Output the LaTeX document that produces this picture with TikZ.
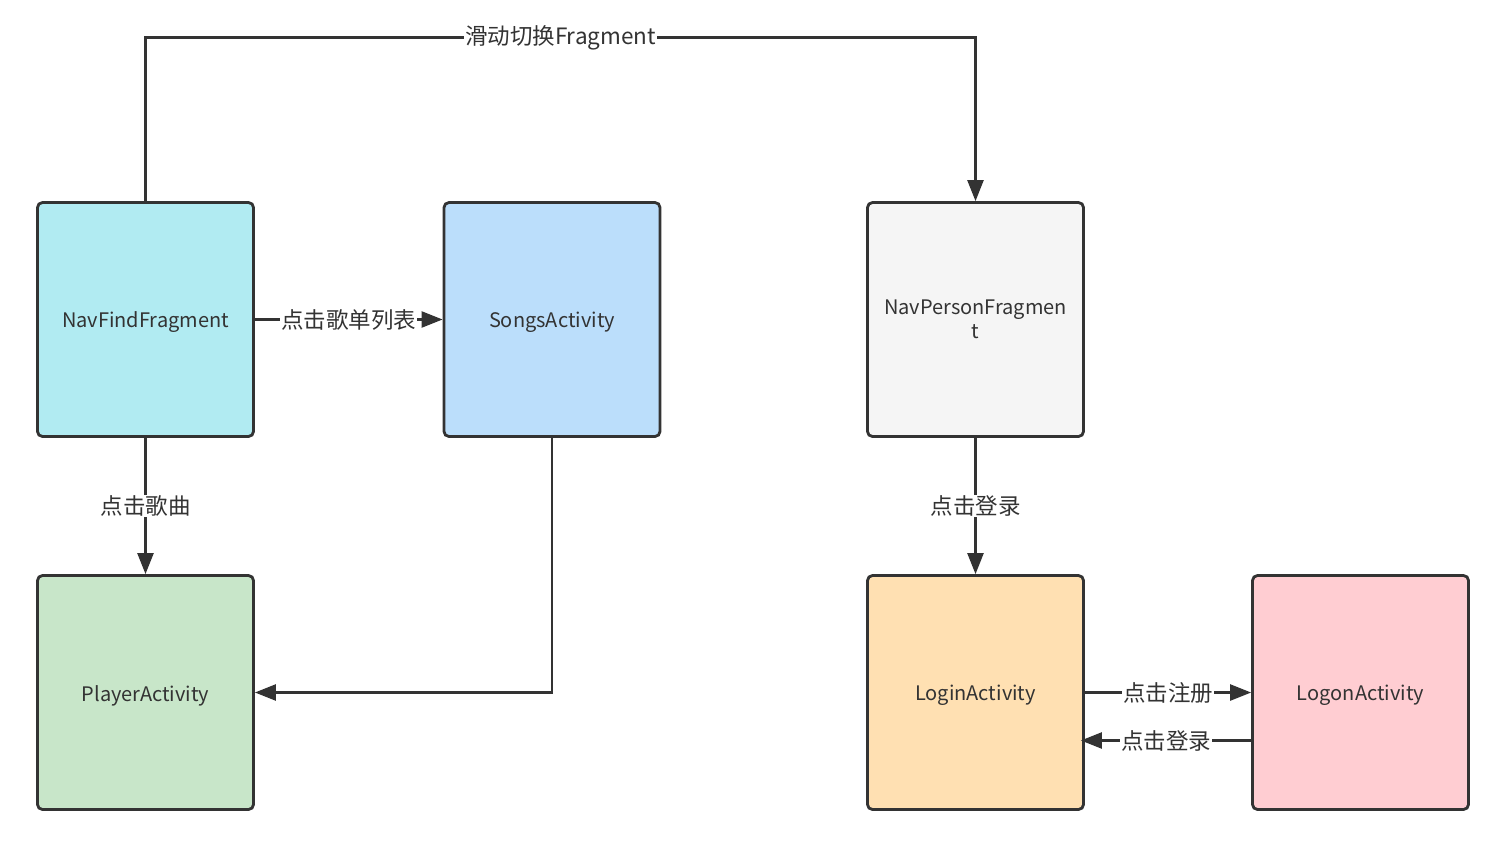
\documentclass[tikz,border=0pt]{standalone}
\usepackage{fontspec}
\setmainfont{Noto Sans CJK SC}
\usetikzlibrary{arrows.meta}
\definecolor{lc}{HTML}{333333}
\definecolor{cFind}{HTML}{B1EBF2}
\definecolor{cSongs}{HTML}{BBDEFB}
\definecolor{cPerson}{HTML}{F5F5F5}
\definecolor{cPlayer}{HTML}{C8E6C9}
\definecolor{cLogin}{HTML}{FFE0B2}
\definecolor{cLogon}{HTML}{FFCDD2}
\newcommand{\lowr}[1]{\raisebox{-3pt}[\height][\depth]{#1}}
\begin{document}
\begin{tikzpicture}[x=1pt,y=-1pt,
  box/.style={draw=lc,line width=2.8pt,rounded corners=5pt,minimum width=216pt,minimum height=234pt,inner sep=0pt,text=lc,font=\fontsize{20}{24}\selectfont,align=center,text width=205pt},
  conn/.style={draw=lc,line width=2.4pt,-{Triangle[length=21pt,width=16pt]}},
  lab/.style={fill=white,text=lc,font=\fontsize{22.5}{26}\selectfont,inner sep=1pt}]
\useasboundingbox (0,0) rectangle (1506,847);
\fill[white] (0,0) rectangle (1506,847);
\node[box,fill=cFind] (find) at (145.5,319.5) {\lowr{NavFindFragment}};
\node[box,fill=cSongs] (songs) at (552,319.5) {\lowr{SongsActivity}};
\node[box,fill=cPerson] (person) at (975.5,319.5) {NavPersonFragmen\\t};
\node[box,fill=cPlayer] (player) at (145.5,692.5) {\lowr{PlayerActivity}};
\node[box,fill=cLogin] (login) at (975.5,692.5) {\lowr{LoginActivity}};
\node[box,fill=cLogon] (logon) at (1360.5,692.5) {\lowr{LogonActivity}};
\coordinate (tl) at (145.5,37.5);
\coordinate (tr) at (975.5,37.5);
\coordinate (sb) at (552,692.5);
\draw[conn] (find.north) -- (tl) -- node[lab]{滑动切换Fragment} (tr) -- (person.north);
\draw[conn] (find.east) -- node[lab]{点击歌单列表} (songs.west);
\draw[conn] (find.south) -- node[lab]{点击歌曲} (player.north);
\draw[conn] (songs.south) -- (sb) -- (player.east);
\draw[conn] (person.south) -- node[lab]{点击登录} (login.north);
\draw[conn] (login.east) -- node[lab]{点击注册} (logon.west);
\draw[conn] ([yshift=-48pt]logon.west) -- node[lab]{点击登录} ([yshift=-48pt,xshift=-4pt]login.east);
\end{tikzpicture}
\end{document}
